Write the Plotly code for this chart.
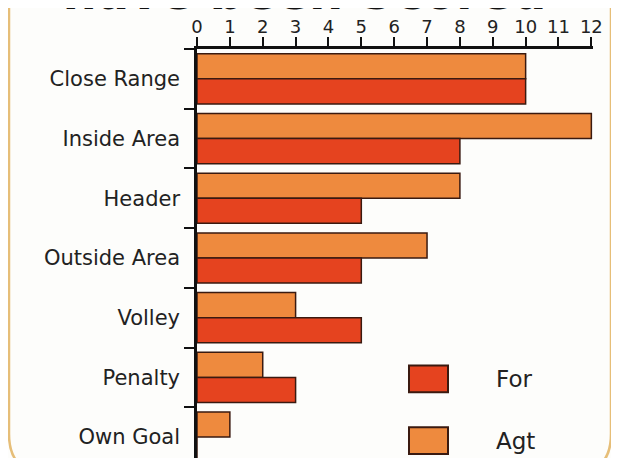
import plotly.graph_objects as go

categories = ["Close Range", "Inside Area", "Header", "Outside Area", "Volley", "Penalty", "Own Goal"]
agt_values = [10, 12, 8, 7, 3, 2, 1]
for_values = [10, 8, 5, 5, 5, 3, 0]
x_ticks = list(range(0, 13))

AGT_COLOR = "#EE8A3E"
FOR_COLOR = "#E5431F"
EDGE = "#3a1a10"
FONT = "DejaVu Sans"

fig = go.Figure()
fig.add_trace(go.Bar(y=categories, x=agt_values, name="Agt", orientation="h",
                     marker=dict(color=AGT_COLOR, line=dict(color=EDGE, width=1.5))))
fig.add_trace(go.Bar(y=categories, x=for_values, name="For", orientation="h",
                     marker=dict(color=FOR_COLOR, line=dict(color=EDGE, width=1.5))))

# page body has an 8px margin, so figure pixels = target pixels - 8
OFF = 8
W, H = 619, 458
L, R, T, B = 197 - OFF, 26 + OFF, 47 - OFF, OFF
pw, ph = W - L - R, H - T - B

def px(x):
    return (x - OFF - L) / pw

def py(y):
    return (H - B - (y - OFF)) / ph

shapes = []
# frame
lx, rx, ty, by = px(9), px(611), py(-10), py(474)
rh, rv = 40 / pw, 40 / ph
path = (f"M {lx},{ty} L {lx},{by+rv} Q {lx},{by} {lx+rh},{by} "
        f"L {rx-rh},{by} Q {rx},{by} {rx},{by+rv} L {rx},{ty}")
shapes.append(dict(type="path", xref="paper", yref="paper", path=path,
                   line=dict(color="#E6BE78", width=2.5), layer="below"))
# legend boxes
shapes.append(dict(type="rect", xref="paper", yref="paper",
                   x0=px(409), x1=px(448), y0=py(392), y1=py(365),
                   fillcolor=FOR_COLOR, line=dict(color=EDGE, width=2)))
shapes.append(dict(type="rect", xref="paper", yref="paper",
                   x0=px(409), x1=px(448), y0=py(454), y1=py(427),
                   fillcolor=AGT_COLOR, line=dict(color=EDGE, width=2)))

annotations = [
    dict(text="For", xref="paper", yref="paper", x=px(494), y=py(379),
         xanchor="left", yanchor="middle", showarrow=False,
         font=dict(family=FONT, size=23, color="#222")),
    dict(text="Agt", xref="paper", yref="paper", x=px(494), y=py(441),
         xanchor="left", yanchor="middle", showarrow=False,
         font=dict(family=FONT, size=23, color="#222")),
    dict(text="<b><i>have been Scored</i></b>", xref="paper", yref="paper",
         x=px(307), y=py(20), xanchor="center", yanchor="bottom", showarrow=False,
         font=dict(family=FONT, size=48, color="#111")),
]

fig.update_layout(
    width=W, height=H,
    margin=dict(l=L, r=R, t=T, b=B, pad=0),
    paper_bgcolor="#FDFDFB", plot_bgcolor="#FDFDFB",
    barmode="group", bargap=0.16, bargroupgap=0,
    showlegend=False,
    shapes=shapes, annotations=annotations,
    font=dict(family=FONT, size=19, color="#222"),
)
fig.update_xaxes(side="top", range=[0, 12.05], tickvals=x_ticks,
                 ticks="outside", ticklen=9, tickwidth=1.5, tickcolor="#111",
                 showline=True, linecolor="#111", linewidth=2.5,
                 showgrid=False, zeroline=False, ticklabelstandoff=-3,
                 tickfont=dict(family=FONT, size=18, color="#222"))
fig.update_yaxes(categoryorder="array", categoryarray=categories,
                 range=[6.35, -0.5], autorange=False,
                 tickson="boundaries", ticks="outside", ticklen=10, tickwidth=1.5,
                 tickcolor="#111", showline=True, linecolor="#111", linewidth=2.5,
                 showgrid=False, zeroline=False, ticklabelstandoff=10,
                 tickfont=dict(family=FONT, size=21, color="#222"))

fig.write_html("out.html")
